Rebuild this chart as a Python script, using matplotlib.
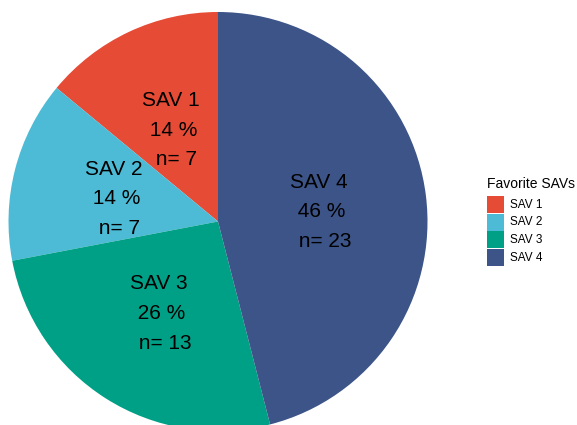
import numpy as np
import matplotlib
matplotlib.use("Agg")
import matplotlib.pyplot as plt
from matplotlib.patches import Rectangle

plt.rcParams['font.family'] = ['Liberation Sans', 'DejaVu Sans']

categories = ['SAV 1', 'SAV 2', 'SAV 3', 'SAV 4']
counts = [7, 7, 13, 23]
colors = ['#E64B35', '#4DBBD5', '#00A087', '#3C5488']

W, H = 577, 425
fig = plt.figure(figsize=(W / 100, H / 100), dpi=100)

# pie geometry in pixels (from top-left)
cx, cy, R = 218, 221.5, 209.5
ax = fig.add_axes([(cx - R) / W, (H - cy - R) / H, 2 * R / W, 2 * R / H])
ax.pie(counts, colors=colors, startangle=90, counterclock=True, radius=1.0,
       wedgeprops=dict(linewidth=0))
ax.set_xlim(-1, 1)
ax.set_ylim(-1, 1)
ax.set_aspect('equal')
ax.axis('off')

total = sum(counts)
start = 90.0
for name, n in zip(categories, counts):
    span = 360.0 * n / total
    mid = np.deg2rad(start + span / 2)
    pct = round(100 * n / total)
    label = f"{name} \n {pct} % \n n= {n}"
    ax.annotate(label, (0.5 * np.cos(mid), 0.5 * np.sin(mid)), xytext=(0, -2.5),
                textcoords='offset points', ha='center', va='center',
                fontsize=15, linespacing=1.72, color='black')
    start += span

# legend drawn by hand, pixel positions
def fx(px):
    return px / W

def fy(py):
    return 1 - py / H

fig.text(fx(487), fy(188), 'Favorite SAVs', fontsize=10, ha='left', va='baseline')
key_h = 17.0
pitch = 17.7
for i, (c, l) in enumerate(zip(colors, categories)):
    top = 196 + i * pitch
    fig.patches.append(Rectangle((fx(487), fy(top + key_h)), 17 / W, key_h / H,
                                 transform=fig.transFigure, facecolor=c, edgecolor='none'))
    fig.text(fx(510), fy(top + key_h / 2), l, fontsize=8.5, ha='left', va='center')

fig.savefig('out.png', dpi=100)
